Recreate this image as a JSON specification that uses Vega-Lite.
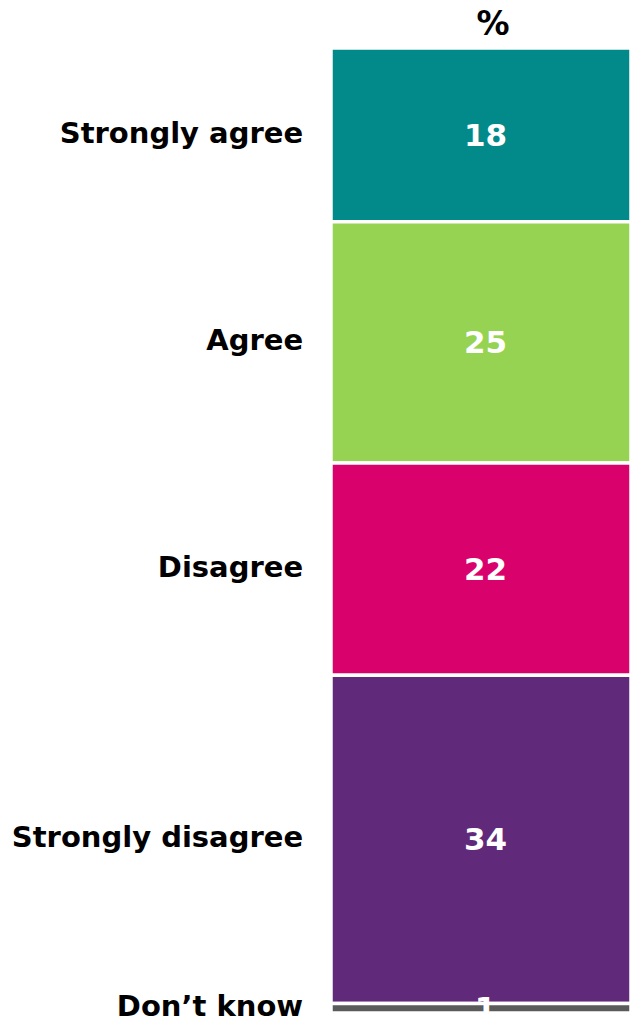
{
  "$schema": "https://vega.github.io/schema/vega-lite/v6.json",
  "width": 631,
  "height": 1017,
  "padding": 0,
  "autosize": {"type": "none"},
  "background": "white",
  "config": {"view": {"stroke": null}, "font": "DejaVu Sans"},
  "data": {
    "values": [
      {"response": "Strongly agree", "pct": 18, "rank": 1},
      {"response": "Agree", "pct": 25, "rank": 2},
      {"response": "Disagree", "pct": 22, "rank": 3},
      {"response": "Strongly disagree", "pct": 34, "rank": 4},
      {"response": "Don’t know", "pct": 1, "rank": 5}
    ]
  },
  "transform": [
    {"stack": "pct", "groupby": [], "sort": [{"field": "rank", "order": "ascending"}], "as": ["y0", "y1"]},
    {"calculate": "(datum.y0 + datum.y1) / 2", "as": "ymid"}
  ],
  "layer": [
    {
      "mark": {"type": "bar", "stroke": "white", "strokeWidth": 3.5},
      "encoding": {
        "x": {"datum": 0, "type": "quantitative", "scale": {"domain": [-1.1033, 1], "nice": false, "zero": false}, "axis": null},
        "x2": {"datum": 1},
        "y": {"field": "y0", "type": "quantitative", "scale": {"domain": [-4.974, 100.41], "reverse": true, "nice": false, "zero": false}, "axis": null},
        "y2": {"field": "y1"},
        "color": {
          "field": "response", "type": "nominal", "legend": null,
          "scale": {
            "domain": ["Strongly agree", "Agree", "Disagree", "Strongly disagree", "Don’t know"],
            "range": ["#028A8A", "#97D352", "#D9026C", "#612979", "#5A5A5A"]
          }
        }
      }
    },
    {
      "mark": {"type": "text", "align": "center", "baseline": "middle", "fontWeight": "bold", "fontSize": 31, "color": "white", "dy": 2},
      "encoding": {
        "x": {"datum": 0.515, "type": "quantitative"},
        "y": {"field": "ymid", "type": "quantitative"},
        "text": {"field": "pct", "type": "quantitative"}
      }
    },
    {
      "mark": {"type": "text", "align": "right", "baseline": "middle", "fontWeight": "bold", "fontSize": 29, "color": "black", "dy": -1},
      "encoding": {
        "x": {"datum": -0.093, "type": "quantitative"},
        "y": {"field": "ymid", "type": "quantitative"},
        "text": {"field": "response", "type": "nominal"}
      }
    },
    {
      "data": {"values": [{"label": "%"}]},
      "mark": {"type": "text", "align": "center", "baseline": "middle", "fontWeight": "bold", "fontSize": 33, "color": "black"},
      "encoding": {
        "x": {"datum": 0.54, "type": "quantitative"},
        "y": {"datum": -2.4, "type": "quantitative"},
        "text": {"field": "label", "type": "nominal"}
      }
    }
  ]
}
